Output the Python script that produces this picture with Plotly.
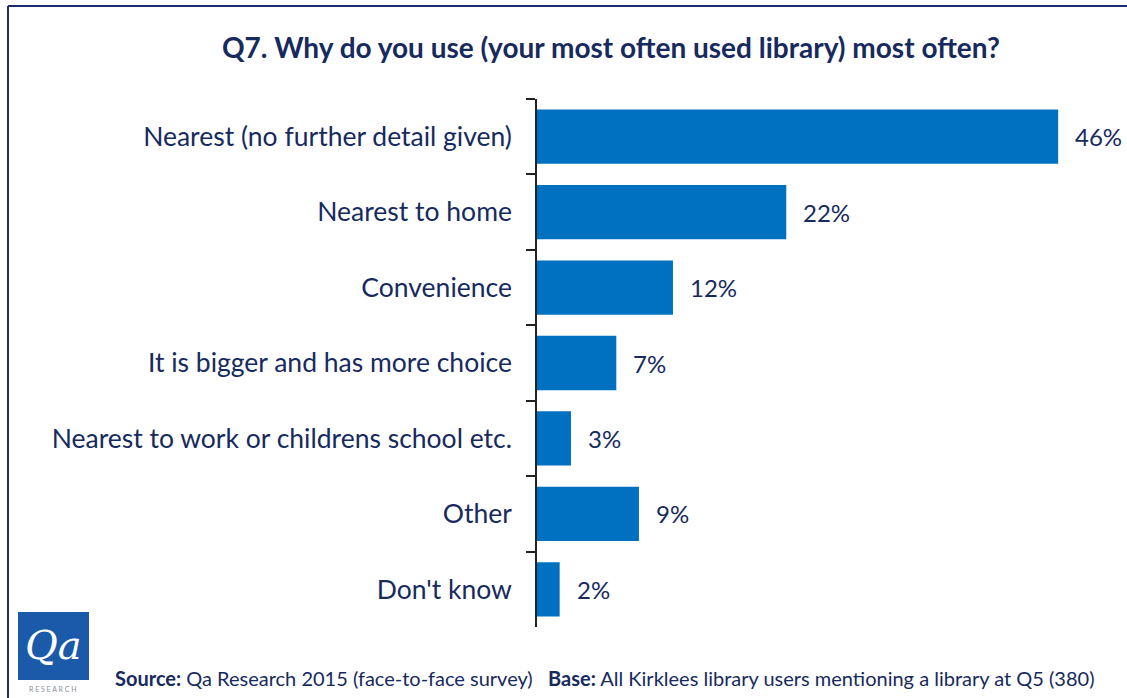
import plotly.graph_objects as go

# Survey responses, Q7
categories = [
    "Nearest (no further detail given)",
    "Nearest to home",
    "Convenience",
    "It is bigger and has more choice",
    "Nearest to work or childrens school etc.",
    "Other",
    "Don't know",
]
percentages = [46, 22, 12, 7, 3, 9, 2]

title_text = "Q7. Why do you use (your most often used library) most often?"
source_text = ("<b>Source:</b> Qa Research 2015 (face-to-face survey)"
               "&nbsp;&nbsp;&nbsp;<b>Base:</b> All Kirklees library users mentioning a library at Q5 (380)")

W, H = 1127, 698
L, R, T, B = 537, 0, 99, 71
NAVY = "#172a5e"
BAR = "#0070C0"
FONT = "Lato"

fig = go.Figure()
fig.add_trace(go.Bar(
    x=percentages,
    y=categories,
    orientation="h",
    marker=dict(color=BAR, line=dict(width=0)),
    hoverinfo="skip",
))

# value labels placed just past each bar end
annotations = []
for cat, val in zip(categories, percentages):
    annotations.append(dict(
        x=val, y=cat, xref="x", yref="y",
        text=f"{val}%", showarrow=False,
        xanchor="left", xshift=15,
        font=dict(family=FONT, size=24, color=NAVY),
    ))

def px_x(p):
    return (p - L) / (W - L - R)

def px_y(p):
    return (H - B - p) / (H - T - B)

annotations.append(dict(
    x=px_x(611), y=px_y(47), xref="paper", yref="paper",
    text=f"<b>{title_text}</b>", showarrow=False,
    xanchor="center", yanchor="middle",
    font=dict(family=FONT, size=28, color=NAVY),
))
annotations.append(dict(
    x=px_x(113), y=px_y(678), xref="paper", yref="paper",
    text=source_text, showarrow=False,
    xanchor="left", yanchor="middle",
    font=dict(family=FONT, size=20, color=NAVY),
))
# logo lettering
annotations.append(dict(
    x=px_x(53), y=px_y(645), xref="paper", yref="paper",
    text="<i>Qa</i>", showarrow=False,
    xanchor="center", yanchor="middle",
    font=dict(family="DejaVu Serif", size=40, color="white"),
))
annotations.append(dict(
    x=px_x(53), y=px_y(689), xref="paper", yref="paper",
    text="R E S E A R C H", showarrow=False,
    xanchor="center", yanchor="middle",
    font=dict(family=FONT, size=7, color="#8a8f98"),
))

shapes = [
    # frame lines
    dict(type="line", xref="paper", yref="paper",
         x0=px_x(8), x1=px_x(W + 5), y0=px_y(6), y1=px_y(6),
         line=dict(color="#1c2e6e", width=2)),
    dict(type="line", xref="paper", yref="paper",
         x0=px_x(8), x1=px_x(8), y0=px_y(6), y1=px_y(H + 5),
         line=dict(color="#1c2e6e", width=2)),
    # logo tile
    dict(type="rect", xref="paper", yref="paper",
         x0=px_x(18), x1=px_x(89), y0=px_y(612), y1=px_y(680),
         fillcolor="#1a5aa8", line=dict(width=0), layer="below"),
]

fig.update_layout(
    width=W, height=H,
    margin=dict(l=L, r=R, t=T, b=B, pad=0),
    paper_bgcolor="white",
    plot_bgcolor="white",
    showlegend=False,
    bargap=0.28,
    annotations=annotations,
    shapes=shapes,
    xaxis=dict(
        range=[0, (W - L - R) / 11.33],
        showgrid=False, zeroline=False, showline=False,
        showticklabels=False, ticks="",
        fixedrange=True,
    ),
    yaxis=dict(
        autorange="reversed",
        showgrid=False, zeroline=False,
        showline=True, linecolor="#222222", linewidth=1.5,
        ticks="outside", ticklen=9, tickwidth=1.5, tickcolor="#222222",
        tickson="boundaries",
        ticklabelstandoff=18,
        tickfont=dict(family=FONT, size=26.5, color=NAVY),
        fixedrange=True,
    ),
)

fig.write_html("out.html")
